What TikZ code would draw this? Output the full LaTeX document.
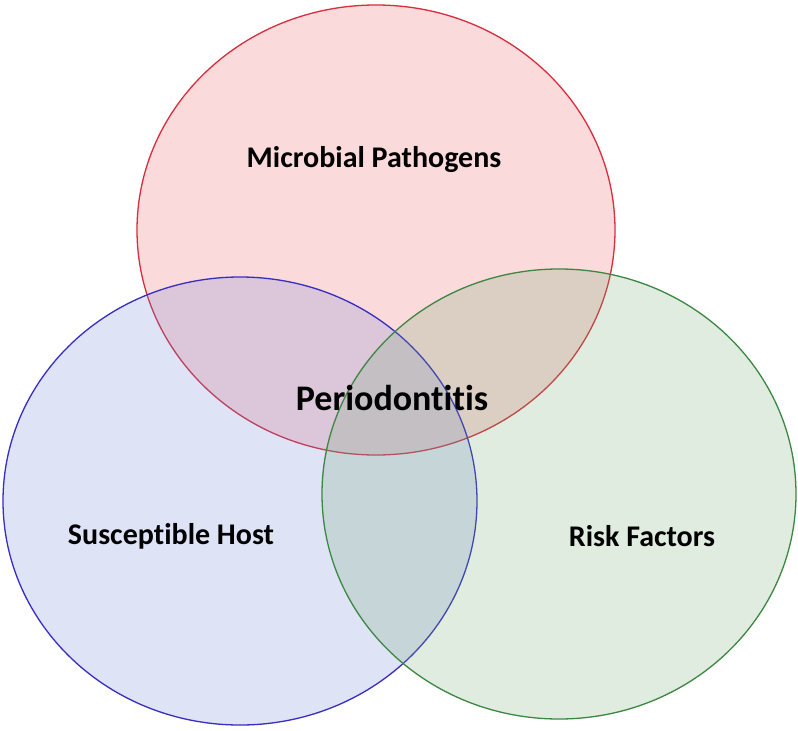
\documentclass[tikz,border=0pt]{standalone}
\usepackage{fontspec}
\setmainfont[Ligatures=NoCommon]{Carlito}
\definecolor{redline}{RGB}{215,45,60}
\definecolor{redfill}{RGB}{235,90,95}
\definecolor{blueline}{RGB}{55,45,195}
\definecolor{bluefill}{RGB}{110,130,215}
\definecolor{greenline}{RGB}{60,135,65}
\definecolor{greenfill}{RGB}{110,170,110}
\tikzset{
  setcircle/.style={line width=1.3pt, fill opacity=0.22},
  lab/.style={font=\bfseries\fontsize{30}{34}\selectfont, text=black, inner sep=0pt},
  biglab/.style={font=\bfseries\fontsize{36}{40}\selectfont, text=black, inner sep=0pt}
}
\begin{document}
\begin{tikzpicture}[x=1pt,y=-1pt]
\useasboundingbox (0,0) rectangle (798,731);
\fill[white] (0,0) rectangle (798,731);
\draw[setcircle, draw=redline, fill=redfill] (376,230) ellipse [x radius=239, y radius=225];
\draw[setcircle, draw=blueline, fill=bluefill] (240,501) ellipse [x radius=237, y radius=224];
\draw[setcircle, draw=greenline, fill=greenfill] (559,494) ellipse [x radius=237, y radius=225];
\node[lab] (mp) at (374,160) {Microbial Pathogens};
\node[biglab] (pe) at (392,398) {Periodontitis};
\node[lab] (sh) at (171,536) {Susceptible Host};
\node[lab] (rf) at (642,536) {Risk Factors};
\end{tikzpicture}
\end{document}
